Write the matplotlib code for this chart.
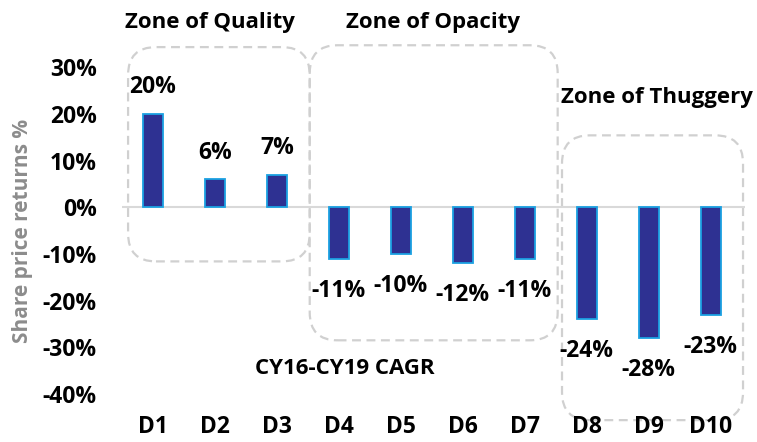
import matplotlib
matplotlib.use("Agg")
import matplotlib.pyplot as plt
from matplotlib.patches import FancyBboxPatch
from matplotlib.ticker import FuncFormatter

plt.rcParams['font.family'] = ['Open Sans', 'DejaVu Sans']
plt.rcParams['font.weight'] = 'bold'

# data
deciles = ['D1', 'D2', 'D3', 'D4', 'D5', 'D6', 'D7', 'D8', 'D9', 'D10']
returns = [0.20, 0.06, 0.07, -0.11, -0.10, -0.12, -0.11, -0.24, -0.28, -0.23]
yticks = [0.30, 0.20, 0.10, 0.0, -0.10, -0.20, -0.30, -0.40]

# zones: (title, x0, x1, y0, y1, title_x, title_y)
zones = [
    ('Zone of Quality', 0.60, 3.53, -0.116, 0.343, 1.92, 0.396),
    ('Zone of Opacity', 3.53, 7.53, -0.285, 0.347, 5.52, 0.396),
    ('Zone of Thuggery', 7.60, 10.52, -0.456, 0.154, 9.13, 0.234),
]

fs = 16.5
fs_title = 16

fig = plt.figure(figsize=(7.57, 4.42), dpi=100)
ax = fig.add_axes([0.161, 0.1086, 0.823, 0.7394])

x = list(range(1, len(deciles) + 1))
ax.bar(x, returns, width=0.32, color='#2E3192', edgecolor='#1BA1E2', linewidth=1.3, zorder=3)

ax.set_xlim(0.5, 10.55)
ax.set_ylim(-0.40, 0.30)
ax.axhline(0, color='#D9D9D9', linewidth=1.5, zorder=2)

# data labels
for xi, v in zip(x, returns):
    off = 19 if v >= 0 else -23
    ax.annotate(f'{round(v * 100):.0f}%', (xi, v), xytext=(0, off), textcoords='offset points',
                ha='center', va='center', fontsize=fs, fontweight='bold', color='black', zorder=5)

# zone boxes
aspect = 62 / 466.7
for title, x0, x1, y0, y1, tx, ty in zones:
    box = FancyBboxPatch((x0, y0), x1 - x0, y1 - y0,
                         boxstyle='round,pad=0,rounding_size=0.45', mutation_aspect=aspect,
                         transform=ax.transData, fill=False, edgecolor='#D0D0D0',
                         linewidth=1.6, linestyle=(0, (4, 2.5)), clip_on=False, zorder=1)
    ax.add_patch(box)
    ax.text(tx, ty, title, ha='center', va='center', fontsize=fs_title, fontweight='bold',
            color='black')

ax.text(4.10, -0.345, 'CY16-CY19 CAGR', ha='center', va='center', fontsize=fs_title,
        fontweight='bold', color='black')

ax.set_yticks(yticks)
ax.yaxis.set_major_formatter(FuncFormatter(lambda v, p: f'{round(v * 100):.0f}%'))
ax.set_xticks(x)
ax.set_xticklabels(deciles)
ax.tick_params(axis='y', length=0, pad=18, labelsize=fs)
ax.tick_params(axis='x', length=0, pad=15, labelsize=fs)
for lab in ax.get_xticklabels() + ax.get_yticklabels():
    lab.set_fontweight('bold')

ax.set_ylabel('Share price returns %', fontsize=15, fontweight='bold', color='#8C8C8C')
ax.yaxis.set_label_coords(-0.143, 0.5)

for s in ax.spines.values():
    s.set_visible(False)

fig.savefig('out.png', dpi=100)
